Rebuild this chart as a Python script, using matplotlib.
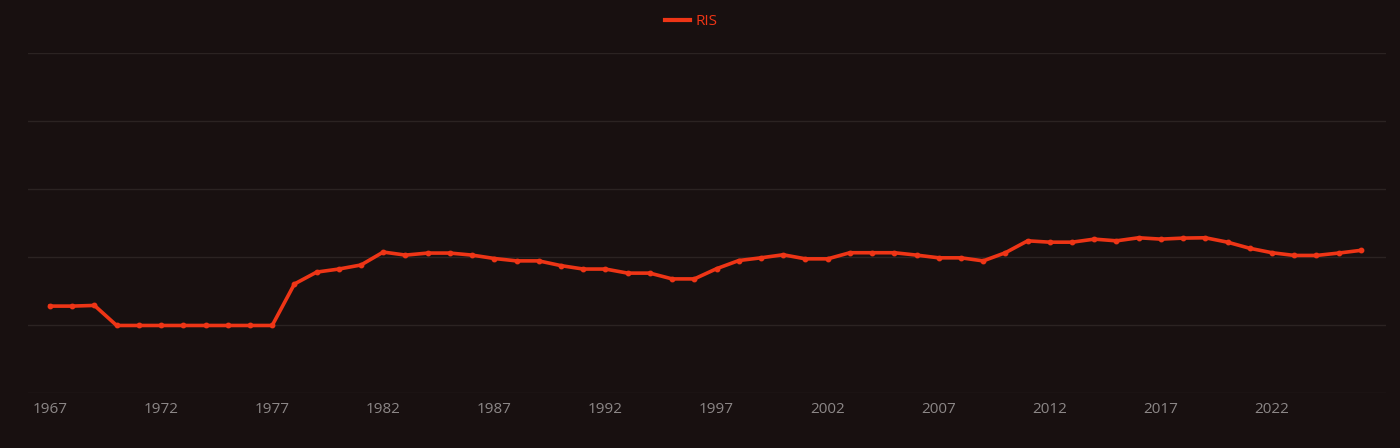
import matplotlib
matplotlib.use("Agg")
import matplotlib.pyplot as plt

years = list(range(1967, 2027))
ris = [25.7, 25.7, 25.9, 20.0, 20.0, 20.0, 20.0, 20.0, 20.0, 20.0,
       20.0, 32.2, 35.7, 36.6, 37.8, 41.6, 40.7, 41.3, 41.3, 40.7,
       39.7, 39.0, 39.0, 37.6, 36.6, 36.6, 35.4, 35.4, 33.7, 33.7,
       36.7, 39.1, 39.9, 40.8, 39.6, 39.6, 41.4, 41.4, 41.4, 40.7,
       39.9, 39.9, 39.0, 41.4, 44.9, 44.5, 44.5, 45.4, 44.9, 45.8,
       45.4, 45.7, 45.8, 44.5, 42.7, 41.4, 40.6, 40.6, 41.3, 42.1]
tick_years = [1967, 1972, 1977, 1982, 1987, 1992, 1997, 2002, 2007, 2012, 2017, 2022]
y_ticks = [0, 20, 40, 60, 80, 100]

bg = "#181010"
line_color = "#ee3516"
grid_color = "#2b2322"
label_color = "#8c8787"

plt.rcParams['font.family'] = ['Open Sans', 'DejaVu Sans']

fig = plt.figure(figsize=(14, 4.48), dpi=100, facecolor=bg)
ax = fig.add_axes([0.02, 0.1217, 0.97, 0.7589], facecolor=bg)

ax.plot(years, ris, color=line_color, linewidth=2.6, marker='o', markersize=3.2,
        markerfacecolor=line_color, markeredgecolor=line_color, label='RIS',
        solid_joinstyle='round', zorder=3)

ax.set_xlim(1966.01, 2027.13)
ax.set_ylim(0, 100)
ax.set_yticks(y_ticks)
ax.set_yticklabels([])
ax.set_xticks(tick_years)
ax.set_xticklabels([str(y) for y in tick_years])
ax.tick_params(axis='y', length=0)
ax.tick_params(axis='x', length=0, colors=label_color, labelsize=11, pad=6)
ax.grid(axis='y', color=grid_color, linewidth=1)
ax.grid(axis='x', visible=False)
for s in ax.spines.values():
    s.set_visible(False)

leg = fig.legend(loc='center', bbox_to_anchor=(0.494, 0.952), frameon=False,
                 fontsize=11, handlelength=1.6, handletextpad=0.4,
                 markerscale=0)
for t in leg.get_texts():
    t.set_color(line_color)
for h in leg.legend_handles:
    h.set_marker('')
    h.set_linewidth(3)

fig.savefig("out.png", dpi=100, facecolor=bg)
